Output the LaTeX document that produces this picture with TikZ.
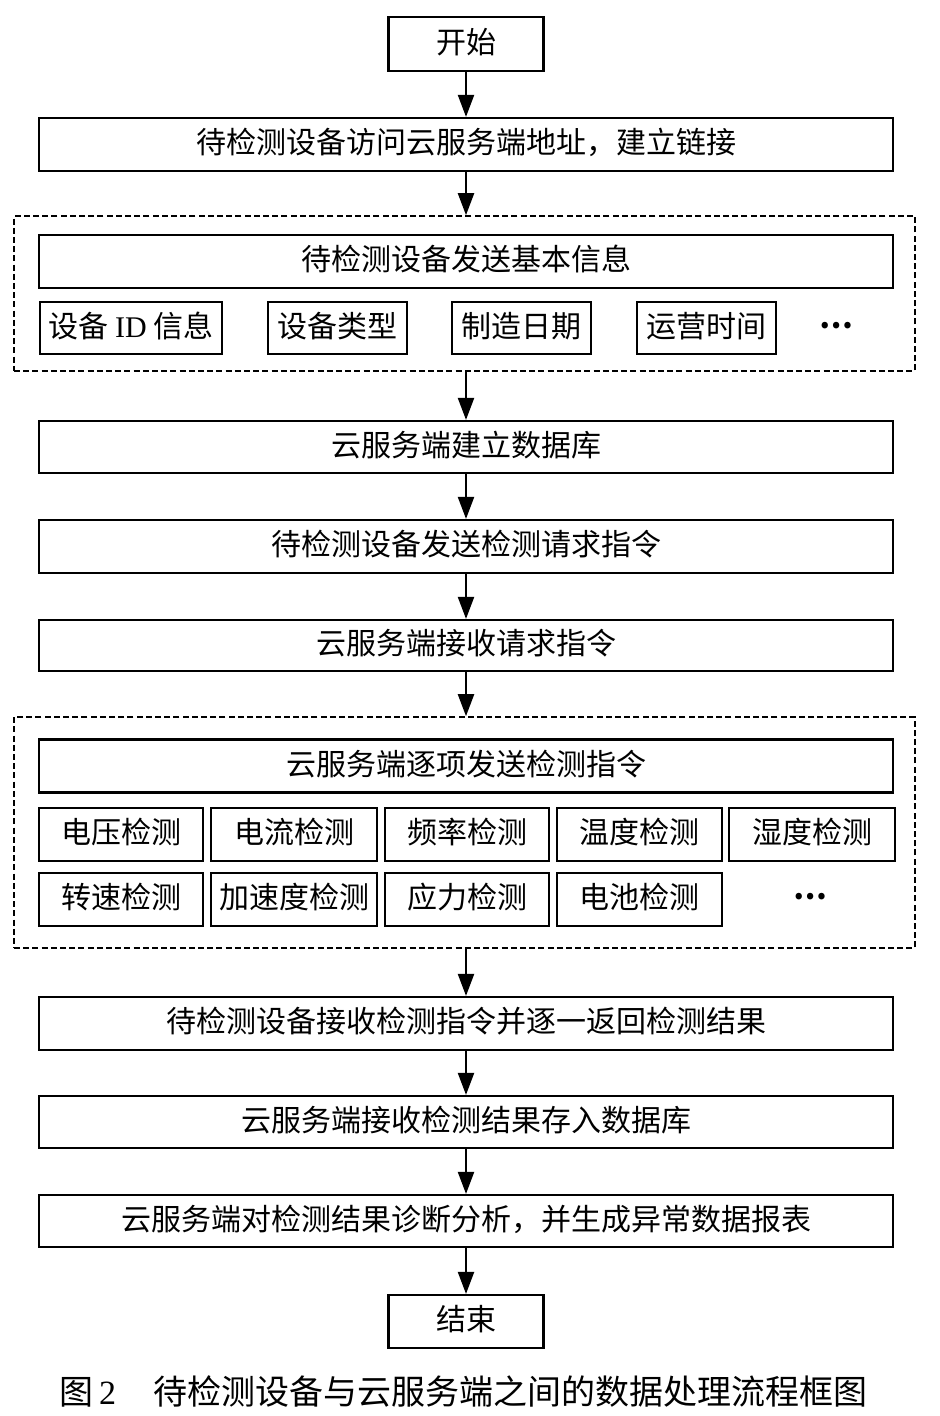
\documentclass[tikz,border=0pt]{standalone}
\usepackage{fontspec}
\newfontfamily\cjk{Noto Sans CJK SC}
\newfontfamily\lat{Liberation Serif}
\usetikzlibrary{arrows.meta,calc}
\newdimen\pxu \pxu=0.5pt
\tikzset{
  x=0.5pt, y=-0.5pt,
  every node/.style={font=\cjk\fontsize{15pt}{18pt}\selectfont, inner sep=0pt, text height=0.96em, text depth=0.04em},
  bx/.style={draw, line width=1.1pt, minimum height=53\pxu},
  wide/.style={bx, minimum width=854\pxu},
  grp/.style={draw, dashed, dash pattern=on 3pt off 1.6pt, line width=0.8pt, inner sep=0pt},
  arr/.style={line width=1.1pt, -{Triangle[width=8pt,length=11pt]}},
}
\newcommand{\mydots}{\raisebox{0.3em}{\bfseries …}}
\begin{document}
\begin{tikzpicture}
\useasboundingbox (0,0) rectangle (939,1416);

\node[bx, minimum width=155\pxu, minimum height=54\pxu] (start) at (466,44) {开始};
\node[wide] (b2) at (466,144.5) {待检测设备访问云服务端地址，建立链接};

\node[grp, minimum width=901\pxu, minimum height=155\pxu] (d1) at (464.5,293.5) {};
\node[wide] (h1) at (466,261.5) {待检测设备发送基本信息};
\node[bx, minimum width=182\pxu, minimum height=52\pxu] (i1) at (131,328) {设备 {\lat ID} 信息};
\node[bx, minimum width=139\pxu, minimum height=52\pxu] (i2) at (337.5,328) {设备类型};
\node[bx, minimum width=139\pxu, minimum height=52\pxu] (i3) at (521.5,328) {制造日期};
\node[bx, minimum width=139\pxu, minimum height=52\pxu] (i4) at (706.5,328) {运营时间};
\node (i5) at (836,328) {\mydots};

\node[wide, minimum height=52\pxu] (b3) at (466,447) {云服务端建立数据库};
\node[wide] (b4) at (466,546.5) {待检测设备发送检测请求指令};
\node[wide, minimum height=51\pxu] (b5) at (466,645.5) {云服务端接收请求指令};

\node[grp, minimum width=901\pxu, minimum height=231\pxu] (d2) at (464.5,832.5) {};
\node[wide] (h2) at (466,766) {云服务端逐项发送检测指令};
\node[bx, minimum width=164\pxu] (t1) at (121,834.5) {电压检测};
\node[bx, minimum width=166\pxu] (t2) at (294,834.5) {电流检测};
\node[bx, minimum width=164\pxu] (t3) at (467,834.5) {频率检测};
\node[bx, minimum width=165\pxu] (t4) at (639.5,834.5) {温度检测};
\node[bx, minimum width=166\pxu] (t5) at (812,834.5) {湿度检测};
\node[bx, minimum width=164\pxu] (t6) at (121,899.5) {转速检测};
\node[bx, minimum width=166\pxu] (t7) at (294,899.5) {加速度检测};
\node[bx, minimum width=164\pxu] (t8) at (467,899.5) {应力检测};
\node[bx, minimum width=165\pxu] (t9) at (639.5,899.5) {电池检测};
\node (t10) at (810,899.5) {\mydots};

\node[wide] (b6) at (466,1023.5) {待检测设备接收检测指令并逐一返回检测结果};
\node[wide, minimum height=52\pxu] (b7) at (466,1122) {云服务端接收检测结果存入数据库};
\node[wide, minimum height=52\pxu] (b8) at (466,1221) {云服务端对检测结果诊断分析，并生成异常数据报表};
\node[bx, minimum width=155\pxu] (end) at (466,1321.5) {结束};

\node[font=\cjk\fontsize{17pt}{20pt}\selectfont] (cap) at (463.5,1395) {图\,{\lat 2}\hspace{1.1em}待检测设备与云服务端之间的数据处理流程框图};

\draw[arr] (start.south) -- (b2.north);
\draw[arr] (b2.south) -- (b2.south |- d1.north);
\draw[arr] (b3.north |- d1.south) -- (b3.north);
\draw[arr] (b3.south) -- (b4.north);
\draw[arr] (b4.south) -- (b5.north);
\draw[arr] (b5.south) -- (b5.south |- d2.north);
\draw[arr] (b6.north |- d2.south) -- (b6.north);
\draw[arr] (b6.south) -- (b7.north);
\draw[arr] (b7.south) -- (b8.north);
\draw[arr] (b8.south) -- (end.north);
\end{tikzpicture}
\end{document}
